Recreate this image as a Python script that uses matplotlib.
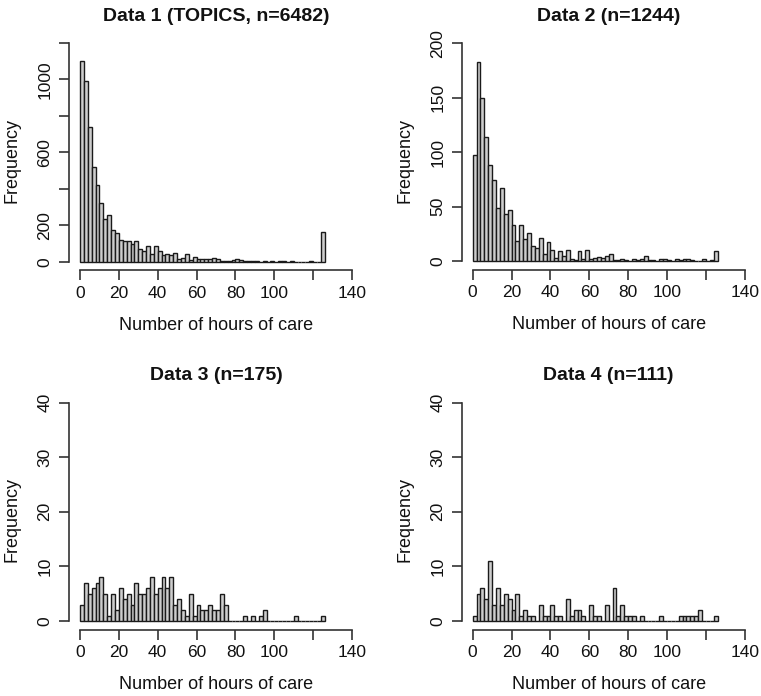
import numpy as np
import matplotlib
matplotlib.use("Agg")
import matplotlib.pyplot as plt

plt.rcParams['font.family'] = ['Liberation Sans', 'DejaVu Sans']

# ---- data -------------------------------------------------------------
bin_edges = list(range(0, 128, 2))          # 63 bins of 2 hours, 0..126

data1_counts = [1100, 990, 740, 520, 420, 322, 237, 255, 173, 158,
                122, 115, 115, 95, 116, 69, 60, 87, 45, 87,
                60, 36, 40, 35, 49, 13, 22, 40, 9, 27,
                16, 13, 13, 16, 22, 15, 5, 5, 5, 9,
                13, 7, 5, 5, 4, 4, 0, 4, 0, 4,
                0, 4, 4, 0, 4, 0, 0, 0, 0, 6,
                0, 0, 165]

data2_counts = [97, 183, 150, 114, 88, 74, 49, 67, 43, 47,
                33, 18, 33, 20, 26, 14, 12, 21, 6, 17,
                10, 3, 9, 5, 10, 2, 1, 9, 2, 10,
                2, 3, 4, 3, 5, 6, 1, 1, 2, 1,
                0, 2, 1, 2, 5, 1, 1, 0, 2, 2,
                1, 0, 2, 1, 2, 2, 1, 0, 0, 2,
                0, 1, 9]

data3_counts = [3, 7, 5, 6, 7, 8, 5, 1, 5, 2,
                6, 4, 5, 3, 7, 5, 5, 6, 8, 5,
                6, 8, 6, 8, 3, 4, 2, 1, 5, 1,
                3, 2, 2, 3, 2, 2, 5, 3, 0, 0,
                0, 0, 1, 0, 1, 0, 1, 2, 0, 0,
                0, 0, 0, 0, 0, 1, 0, 0, 0, 0,
                0, 0, 1]

data4_counts = [1, 5, 6, 4, 11, 3, 6, 3, 5, 4,
                2, 5, 1, 2, 1, 1, 0, 3, 1, 1,
                3, 1, 1, 0, 4, 1, 2, 2, 1, 0,
                3, 1, 1, 0, 3, 0, 6, 1, 3, 1,
                1, 1, 0, 1, 0, 0, 0, 0, 1, 0,
                0, 0, 0, 1, 1, 1, 1, 1, 2, 0,
                0, 0, 1]

titles = ["Data 1 (TOPICS, n=6482)", "Data 2 (n=1244)",
          "Data 3 (n=175)", "Data 4 (n=111)"]
xlabel = "Number of hours of care"
ylabel = "Frequency"

x_ticks = [0, 20, 40, 60, 80, 100, 120, 140]
x_ticklabels = ["0", "20", "40", "60", "80", "100", "", "140"]

y_ticks_1 = [0, 200, 400, 600, 800, 1000, 1200]
y_ticklabels_1 = ["0", "200", "", "600", "", "1000", ""]
y_ticks_2 = [0, 50, 100, 150, 200]
y_ticklabels_2 = ["0", "50", "100", "150", "200"]
y_ticks_34 = [0, 10, 20, 30, 40]
y_ticklabels_34 = ["0", "10", "20", "30", "40"]

# ---- layout -----------------------------------------------------------
W, H = 761, 696
fig = plt.figure(figsize=(W / 100, H / 100), dpi=100)
fig.patch.set_facecolor("white")

def rect(l, t, r, b):
    return [l / W, 1 - b / H, (r - l) / W, (b - t) / H]

panels = [
    dict(counts=data1_counts, title=titles[0], yt=y_ticks_1, ytl=y_ticklabels_1,
         box=(69.1, 34.2, 362.9, 270.5)),
    dict(counts=data2_counts, title=titles[1], yt=y_ticks_2, ytl=y_ticklabels_2,
         box=(461.8, 34.6, 755.6, 269.7)),
    dict(counts=data3_counts, title=titles[2], yt=y_ticks_34, ytl=y_ticklabels_34,
         box=(69.1, 394.0, 362.9, 629.7)),
    dict(counts=data4_counts, title=titles[3], yt=y_ticks_34, ytl=y_ticklabels_34,
         box=(461.8, 394.0, 755.6, 629.7)),
]

axis_color = "#333333"
xmin, xmax = x_ticks[0], x_ticks[-1]

for p in panels:
    l, t, r, b = p["box"]
    ax = fig.add_axes(rect(l, t, r, b))
    ymax = p["yt"][-1]
    lefts = bin_edges[:-1]
    widths = np.diff(bin_edges)
    ax.bar(lefts, p["counts"], width=widths, align="edge",
           color="#CDCDCD", edgecolor="#1a1a1a", linewidth=1.0)
    xr = (xmax - xmin) * 0.04
    ax.set_xlim(xmin - xr, xmax + xr)
    ax.set_ylim(-ymax * 0.04, ymax * 1.04)
    for s in ("top", "right"):
        ax.spines[s].set_visible(False)
    ax.spines["left"].set_bounds(0, ymax)
    ax.spines["bottom"].set_bounds(xmin, xmax)
    for s in ("left", "bottom"):
        ax.spines[s].set_color(axis_color)
        ax.spines[s].set_linewidth(1.2)
    ax.set_xticks(x_ticks)
    ax.set_xticklabels(x_ticklabels)
    ax.set_yticks(p["yt"])
    ax.set_yticklabels(p["ytl"], rotation=90, va="center")
    ax.tick_params(direction="out", length=7, width=1.2, color=axis_color,
                   labelsize=12.5, labelcolor="#111111")
    ax.tick_params(axis="x", pad=4)
    ax.tick_params(axis="y", pad=5)
    ax.patch.set_alpha(0)

    cx = (l + r) / 2
    fig.text(cx / W, 1 - (t - 18) / H, p["title"], ha="center", va="center",
             fontsize=14, fontweight="bold", color="#111111")
    fig.text(cx / W, 1 - (b + 55) / H, xlabel, ha="center", va="center",
             fontsize=13, color="#111111")
    fig.text((l - 57) / W, 1 - ((t + b) / 2 + 8) / H, ylabel, ha="center",
             va="center", rotation=90, fontsize=13, color="#111111")

fig.savefig("out.png", dpi=100, facecolor="white")
